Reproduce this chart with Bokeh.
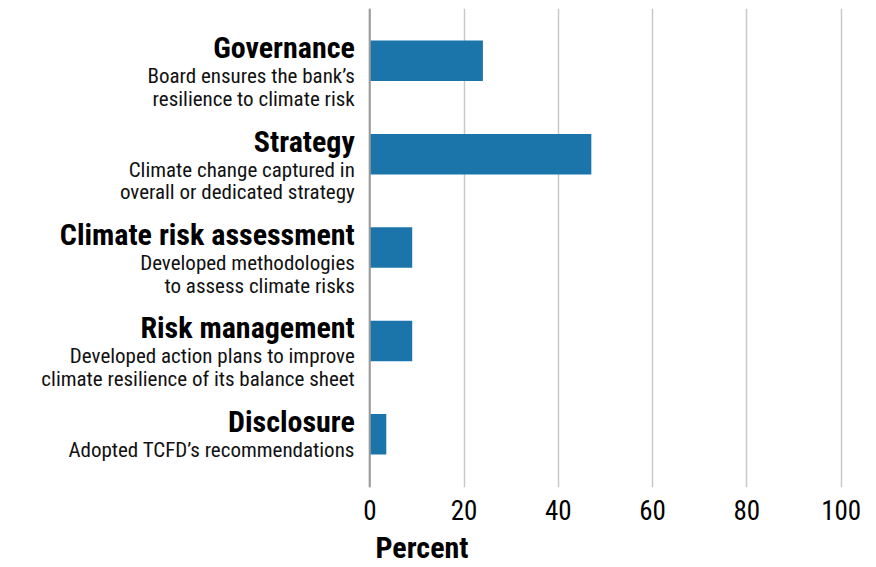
from bokeh.plotting import figure
from bokeh.models import Range1d, ColumnDataSource, FixedTicker, Span
from bokeh.core.properties import value
from bokeh.embed import file_html
from bokeh.resources import INLINE

categories = ["Governance", "Strategy", "Climate risk assessment", "Risk management", "Disclosure"]
subtitles = [
    "Board ensures the bank\u2019s\nresilience to climate risk",
    "Climate change captured in\noverall or dedicated strategy",
    "Developed methodologies\nto assess climate risks",
    "Developed action plans to improve\nclimate resilience of its balance sheet",
    "Adopted TCFD\u2019s recommendations",
]
percent = [24, 47, 9, 9, 3.5]
x_ticks = [0, 20, 40, 60, 80, 100]

FONT = "Roboto Condensed, Liberation Sans Narrow, Arial Narrow, sans-serif"
BAR = "#1b75ab"

idx = list(range(len(categories)))

p = figure(width=876, height=567, output_backend="svg", toolbar_location=None,
           x_range=Range1d(-78.35, 100.5), y_range=Range1d(4.57, -0.56),
           min_border_left=0, min_border_right=33, min_border_top=8, min_border_bottom=75)
p.outline_line_color = None
p.background_fill_color = "white"
p.border_fill_color = "white"

p.hbar(y=idx, right=percent, left=0, height=0.434, color=BAR, line_color=None)

zero = Span(location=0, dimension="height", line_color="#9a9a9a", line_width=2)
p.add_layout(zero)

# texts
tsrc = ColumnDataSource(dict(x=[0] * len(categories), y=idx, t=categories))
p.text(x="x", y="y", text="t", source=tsrc, x_offset=-15, y_offset=-13,
       text_align="right", text_baseline="alphabetic",
       text_font=value(FONT), text_font_style="bold", text_font_size="30px", text_color="black")

sx, sy, st, so = [], [], [], []
for i, s in enumerate(subtitles):
    for j, line in enumerate(s.split("\n")):
        sx.append(0); sy.append(i); st.append(line); so.append(15.5 + 22.5 * j)
ssrc = ColumnDataSource(dict(x=sx, y=sy, t=st, o=so))
p.text(x="x", y="y", text="t", source=ssrc, x_offset=-15, y_offset="o",
       text_align="right", text_baseline="alphabetic",
       text_font=value(FONT), text_font_size="21px", text_color="#111111")

p.yaxis.visible = False
p.ygrid.grid_line_color = None
p.xgrid.grid_line_color = "#c8c8c8"
p.xgrid.grid_line_width = 1.5
p.xaxis.ticker = FixedTicker(ticks=x_ticks)
p.xaxis.axis_line_color = None
p.xaxis.major_tick_line_color = None
p.xaxis.minor_tick_line_color = None
p.xaxis.major_label_text_font = FONT
p.xaxis.major_label_text_font_size = "27px"
p.xaxis.major_label_text_color = "black"
p.xaxis.major_label_standoff = 6
p.xaxis.axis_label = "Percent"
p.xaxis.axis_label_text_font = FONT
p.xaxis.axis_label_text_font_style = "bold"
p.xaxis.axis_label_text_font_size = "30px"
p.xaxis.axis_label_text_color = "black"
p.xaxis.axis_label_standoff = 7

open("out.html", "w").write(file_html(p, INLINE))
